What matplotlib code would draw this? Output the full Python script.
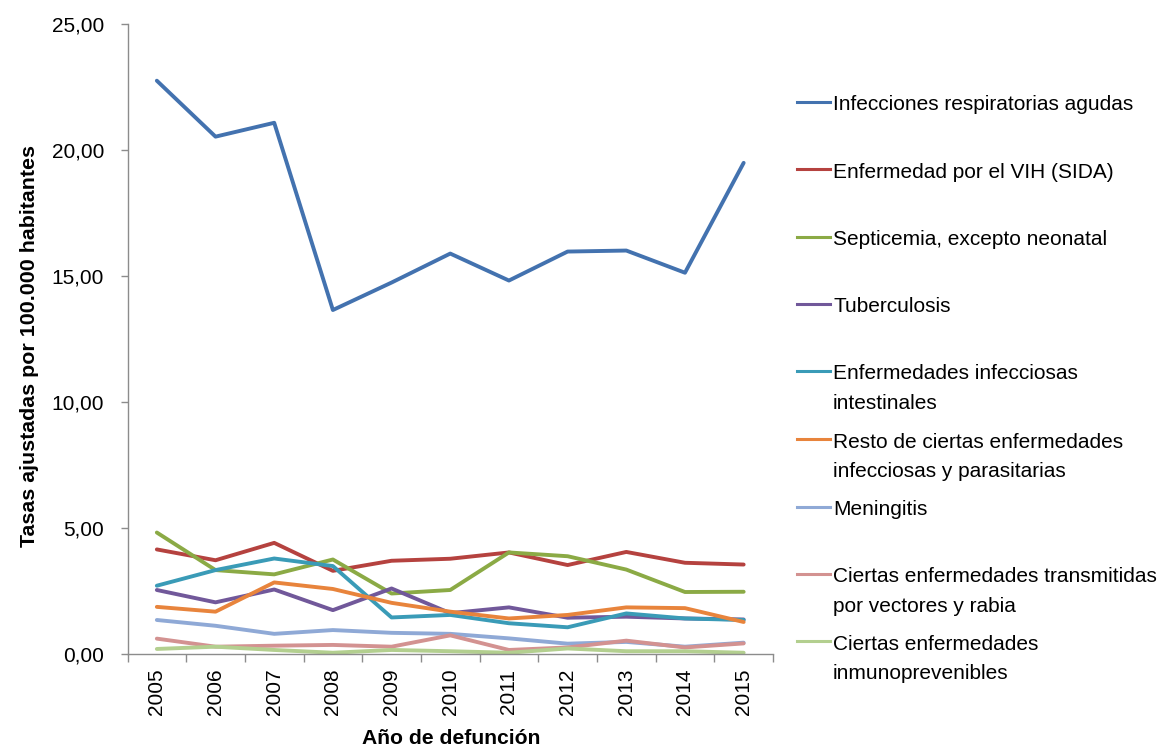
import matplotlib
matplotlib.use("Agg")
import matplotlib.pyplot as plt
from matplotlib import font_manager
from matplotlib.lines import Line2D

years = ["2005", "2006", "2007", "2008", "2009", "2010",
         "2011", "2012", "2013", "2014", "2015"]

infecciones_respiratorias = [22.75, 20.53, 21.08, 13.65, 14.74, 15.89, 14.82, 15.97, 16.01, 15.13, 19.49]
vih_sida = [4.15, 3.72, 4.41, 3.30, 3.70, 3.78, 4.03, 3.53, 4.05, 3.62, 3.55]
septicemia = [4.82, 3.33, 3.16, 3.75, 2.40, 2.54, 4.03, 3.88, 3.35, 2.46, 2.47]
tuberculosis = [2.54, 2.05, 2.56, 1.74, 2.60, 1.62, 1.85, 1.44, 1.48, 1.41, 1.37]
intestinales = [2.71, 3.33, 3.79, 3.49, 1.45, 1.55, 1.22, 1.06, 1.61, 1.41, 1.35]
resto_parasitarias = [1.87, 1.68, 2.84, 2.58, 2.03, 1.68, 1.41, 1.55, 1.85, 1.82, 1.27]
meningitis = [1.35, 1.12, 0.80, 0.95, 0.84, 0.80, 0.62, 0.41, 0.48, 0.29, 0.45]
vectores_rabia = [0.61, 0.29, 0.33, 0.36, 0.29, 0.74, 0.16, 0.26, 0.53, 0.26, 0.42]
inmunoprevenibles = [0.20, 0.29, 0.16, 0.05, 0.16, 0.11, 0.05, 0.22, 0.11, 0.11, 0.05]

series_labels = [
    ["Infecciones respiratorias agudas"],
    ["Enfermedad por el VIH (SIDA)"],
    ["Septicemia, excepto neonatal"],
    ["Tuberculosis"],
    ["Enfermedades infecciosas", "intestinales"],
    ["Resto de ciertas enfermedades", "infecciosas y parasitarias"],
    ["Meningitis"],
    ["Ciertas enfermedades transmitidas", "por vectores y rabia"],
    ["Ciertas enfermedades", "inmunoprevenibles"],
]
series_values = [infecciones_respiratorias, vih_sida, septicemia, tuberculosis,
                 intestinales, resto_parasitarias, meningitis, vectores_rabia,
                 inmunoprevenibles]
series_colors = ["#4372AF", "#B5423F", "#8BAA45", "#71589A", "#3A9BB7",
                 "#E8843C", "#8FA9D6", "#D39291", "#B3CF8F"]

y_ticks = [0, 5, 10, 15, 20, 25]

available = {f.name for f in font_manager.fontManager.ttflist}
family = [f for f in ["Liberation Sans", "DejaVu Sans"] if f in available] or ["DejaVu Sans"]
plt.rcParams["font.family"] = family
fs = 15

W, H = 1165, 749
fig = plt.figure(figsize=(W / 100, H / 100), dpi=100)
ax = fig.add_axes([127.5 / W, 1 - 654 / H, (773 - 127.5) / W, (654 - 24) / H])

x = list(range(len(years)))
for vals, col in zip(series_values, series_colors):
    ax.plot(x, vals, color=col, lw=2.8, solid_joinstyle="round",
            solid_capstyle="round")

ax.set_xlim(-0.5, len(years) - 0.5)
ax.set_ylim(0, 25)
ax.set_yticks(y_ticks)
ax.set_yticklabels([f"{v:.2f}".replace(".", ",") for v in y_ticks], fontsize=fs)
ax.set_xticks(x)
ax.set_xticklabels(years, rotation=90, fontsize=fs)
# category boundaries carry the tick marks
ax.set_xticks([i - 0.5 for i in range(len(years) + 1)], minor=True)
ax.tick_params(axis="x", which="major", length=0, pad=10.5)
ax.tick_params(axis="x", which="minor", length=6, width=1, color="#8C8C8C",
               direction="out")
ax.tick_params(axis="y", length=5, width=1, color="#8C8C8C", pad=12)

for side in ("top", "right"):
    ax.spines[side].set_visible(False)
for side in ("left", "bottom"):
    ax.spines[side].set_color("#8C8C8C")
    ax.spines[side].set_linewidth(1.0)

fig.text(30 / W, 1 - 346 / H, "Tasas ajustadas por 100.000 habitantes",
         rotation=90, ha="center", va="center", fontsize=15.4,
         fontweight="bold")
fig.text(451 / W, 1 - 738 / H, "Año de defunción", ha="center", va="center",
         fontsize=15.2, fontweight="bold")

# Legend on the right: handle + (possibly two-line) label per series
first_line_y = [103, 170, 237.5, 305, 372, 440, 507.5, 575, 642]
line_gap = 29.5
for lines, col, yc in zip(series_labels, series_colors, first_line_y):
    fy = 1 - (yc - 1) / H
    fig.add_artist(Line2D([797 / W, 830 / W], [fy, fy], color=col, lw=2.2,
                          transform=fig.transFigure))
    for k, txt in enumerate(lines):
        fig.text(833 / W, 1 - (yc + k * line_gap) / H, txt, ha="left",
                 va="center_baseline", fontsize=fs)

fig.savefig("out.png", dpi=100)
